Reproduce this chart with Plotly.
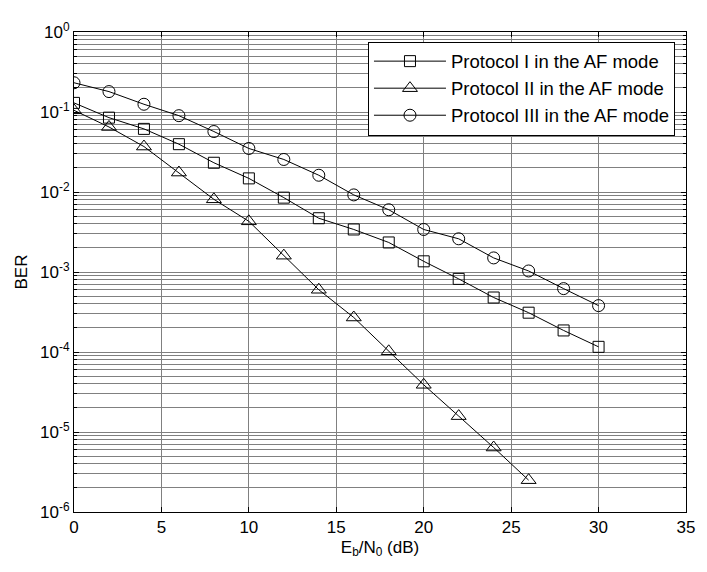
import plotly.graph_objects as go

snr = [0, 2, 4, 6, 8, 10, 12, 14, 16, 18, 20, 22, 24, 26, 28, 30]
ber_p1 = [0.13, 0.085, 0.0615, 0.0396, 0.0232, 0.0148, 0.0085, 0.0047, 0.0034, 0.00234,
          0.00136, 0.00082, 0.00048, 0.00031, 0.000186, 0.000116]
snr_p2 = [0, 2, 4, 6, 8, 10, 12, 14, 16, 18, 20, 22, 24, 26]
ber_p2 = [0.105, 0.065, 0.037, 0.0175, 0.0081, 0.0043, 0.0016, 0.0006, 0.00027, 0.000102,
          0.0000389, 0.0000158, 0.0000064, 0.0000025]
ber_p3 = [0.232, 0.18, 0.125, 0.09, 0.057, 0.035, 0.0255, 0.0162, 0.0092, 0.006,
          0.0034, 0.0026, 0.0015, 0.00103, 0.00062, 0.00038]

names = ["Protocol I in the AF mode", "Protocol II in the AF mode", "Protocol III in the AF mode"]
ytick_vals = [1e-6, 1e-5, 1e-4, 1e-3, 1e-2, 1e-1, 1]
ytick_text = ["10<sup>-6</sup>", "10<sup>-5</sup>", "10<sup>-4</sup>", "10<sup>-3</sup>",
              "10<sup>-2</sup>", "10<sup>-1</sup>", "10<sup>0</sup>"]
xtick_vals = [0, 5, 10, 15, 20, 25, 30, 35]

FONT = "Liberation Sans, Arial, sans-serif"
grid = "rgb(128,128,128)"

fig = go.Figure()
fig.add_trace(go.Scatter(x=snr, y=ber_p1, name=names[0], mode="lines+markers",
                         line=dict(color="black", width=1),
                         marker=dict(symbol="square-open", size=11, color="black", line=dict(width=1))))
fig.add_trace(go.Scatter(x=snr_p2, y=ber_p2, name=names[1], mode="lines+markers",
                         line=dict(color="black", width=1),
                         marker=dict(symbol="triangle-up-open", size=13, color="black", line=dict(width=1))))
fig.add_trace(go.Scatter(x=snr, y=ber_p3, name=names[2], mode="lines+markers",
                         line=dict(color="black", width=1),
                         marker=dict(symbol="circle-open", size=12, color="black", line=dict(width=1))))

# page body has an 8px default margin, so the figure is made 8px smaller
fig.update_layout(
    width=699, height=564,
    margin=dict(l=65, r=12, t=12, b=60),
    paper_bgcolor="white", plot_bgcolor="white",
    font=dict(family=FONT, size=17, color="black"),
    showlegend=True,
    legend=dict(x=0.982, y=0.98, xanchor="right", yanchor="top",
                bordercolor="black", borderwidth=1, bgcolor="white",
                font=dict(family=FONT, size=18.5), itemwidth=72, tracegroupgap=0),
)
fig.update_xaxes(
    range=[0, 35], tickvals=xtick_vals, ticks="inside", ticklen=5, tickcolor="black",
    showline=True, linecolor="black", linewidth=1, mirror="allticks",
    showgrid=True, gridcolor=grid, gridwidth=1, zeroline=False,
    title=dict(text="E<sub>b</sub>/N<sub>0</sub> (dB)", font=dict(size=17), standoff=4),
    tickfont=dict(size=17),
)
fig.update_yaxes(
    type="log", range=[-6, 0], tickvals=ytick_vals, ticktext=ytick_text,
    ticks="inside", ticklen=5, tickcolor="black",
    showline=True, linecolor="black", linewidth=1, mirror="allticks",
    showgrid=True, gridcolor=grid, gridwidth=1, zeroline=False,
    minor=dict(dtick="D1", ticks="inside", ticklen=3, tickcolor="black",
               showgrid=True, gridcolor=grid, gridwidth=1),
    title=dict(text="BER", font=dict(size=17), standoff=8),
    tickfont=dict(size=17),
)

fig.write_html("out.html")
